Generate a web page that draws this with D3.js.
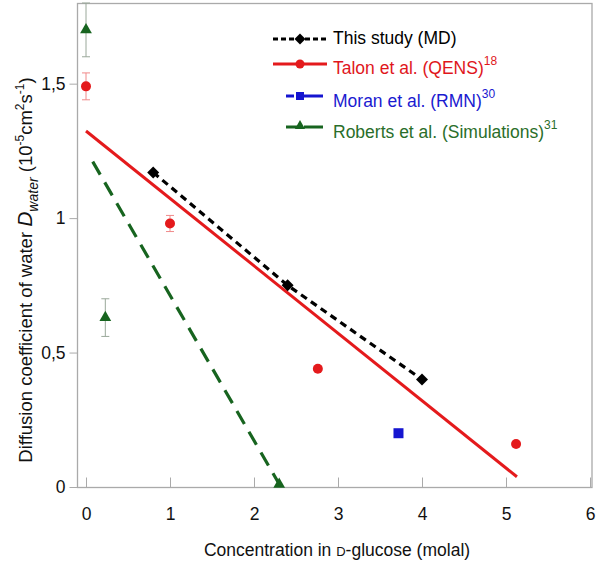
<!DOCTYPE html>
<html><head><meta charset="utf-8">
<script src="https://cdn.jsdelivr.net/npm/d3@7"></script>
<style>body{margin:0;background:#fff}svg{display:block;font-family:"Liberation Sans",Arial,sans-serif}</style>
</head><body><svg id="c" width="600" height="563"></svg>
<script>
// Data
const mdX = [0.8, 2.4, 4.0];
const mdY = [1.17, 0.75, 0.40];
const talonX = [0, 1.0, 2.76, 5.12];
const talonY = [1.49, 0.98, 0.44, 0.16];
const talonErr = [0.05, 0.03, 0, 0];
const talonFitX = [0, 5.13];
const talonFitY = [1.324, 0.038];
const moranX = [3.72];
const moranY = [0.20];
const robertsX = [0, 0.23, 2.3];
const robertsY = [1.70, 0.63, 0.01];
const robertsErr = [0.10, 0.07, 0];
const robertsFitX = [0.08, 2.32];
const robertsFitY = [1.21, 0.0];
const xTicks = [0, 1, 2, 3, 4, 5, 6];
const xTickLabels = ["0", "1", "2", "3", "4", "5", "6"];
const yTicks = [0, 0.5, 1, 1.5];
const yTickLabels = ["0", "0,5", "1", "1,5"];

const RED = "#e41a1c", BLUE = "#1515d0", GREEN = "#17641f", BLACK = "#000";
const svg = d3.select("#c");
const x = d3.scaleLinear().domain([0, 6]).range([86, 590]);
const y = d3.scaleLinear().domain([0, 1.8]).range([487, 3]);
const frame = {l: 77.5, r: 592, t: 3.5, b: 487.5};

// frame
svg.append("rect").attr("x", frame.l).attr("y", frame.t)
  .attr("width", frame.r - frame.l).attr("height", frame.b - frame.t)
  .attr("fill", "none").attr("stroke", "#aaa").attr("stroke-width", 1.3);

// x axis ticks (inward) & labels
const xAxis = d3.axisBottom(x).tickValues(xTicks).tickFormat((d, i) => xTickLabels[i])
  .tickSizeInner(-10).tickSizeOuter(0).tickPadding(20);
const gx = svg.append("g").attr("transform", `translate(0,${frame.b})`).call(xAxis);
gx.select(".domain").remove();
gx.selectAll(".tick line").attr("stroke", "#aaa");
gx.selectAll(".tick text").attr("font-size", 17.5).attr("fill", "#111").attr("font-family", "Liberation Sans, Arial, sans-serif");

// y axis ticks (outward) & labels
const yAxis = d3.axisLeft(y).tickValues(yTicks).tickFormat((d, i) => yTickLabels[i]).tickSize(8).tickPadding(4);
const gy = svg.append("g").attr("transform", `translate(${frame.l},0)`).call(yAxis);
gy.select(".domain").remove();
gy.selectAll(".tick line").attr("stroke", "#aaa");
gy.selectAll(".tick text").attr("font-size", 17.5).attr("fill", "#111").attr("font-family", "Liberation Sans, Arial, sans-serif");

// Axis titles
const xt = svg.append("text").attr("x", 337).attr("y", 556).attr("text-anchor", "middle")
  .attr("font-size", 17.5).attr("fill", "#111");
xt.append("tspan").text("Concentration in ");
xt.append("tspan").attr("font-size", 13).text("D");
xt.append("tspan").text("-glucose (molal)");

const yt = svg.append("text").attr("transform", "translate(32,270) rotate(-90)")
  .attr("text-anchor", "middle").attr("font-size", 18.5).attr("fill", "#111");
yt.append("tspan").text("Diffusion coefficient of water ");
yt.append("tspan").attr("font-style", "italic").attr("font-size", 21).text("D");
yt.append("tspan").attr("font-style", "italic").attr("font-size", 14).attr("dy", 6).text("water");
yt.append("tspan").attr("dy", -6).text("  (10");
yt.append("tspan").attr("font-size", 12).attr("dy", -8).text("-5");
yt.append("tspan").attr("dy", 8).text("cm");
yt.append("tspan").attr("font-size", 12).attr("dy", -8).text("2");
yt.append("tspan").attr("dy", 8).text("s");
yt.append("tspan").attr("font-size", 12).attr("dy", -8).text("-1");
yt.append("tspan").attr("dy", 8).text(")");

const line = d3.line().x(d => x(d[0])).y(d => y(d[1]));

// Roberts fit (green dashed)
svg.append("path").datum(d3.zip(robertsFitX, robertsFitY)).attr("d", line)
  .attr("fill", "none").attr("stroke", GREEN).attr("stroke-width", 3.2).attr("stroke-dasharray", "15,9");
// Talon fit (red)
svg.append("path").datum(d3.zip(talonFitX, talonFitY)).attr("d", line)
  .attr("fill", "none").attr("stroke", RED).attr("stroke-width", 3);
// MD (black dashed)
svg.append("path").datum(d3.zip(mdX, mdY)).attr("d", line)
  .attr("fill", "none").attr("stroke", BLACK).attr("stroke-width", 3.2).attr("stroke-dasharray", "7,5");

// error bars
function errBars(xs, ys, es, color) {
  const g = svg.append("g").attr("stroke", color).attr("stroke-width", 1);
  xs.forEach((xv, i) => {
    if (!es[i]) return;
    const cx = x(xv), y1 = y(ys[i] + es[i]), y2 = y(ys[i] - es[i]);
    g.append("line").attr("x1", cx).attr("x2", cx).attr("y1", y1).attr("y2", y2);
    g.append("line").attr("x1", cx - 4).attr("x2", cx + 4).attr("y1", y1).attr("y2", y1);
    g.append("line").attr("x1", cx - 4).attr("x2", cx + 4).attr("y1", y2).attr("y2", y2);
  });
}
errBars(robertsX, robertsY, robertsErr, "#9aa89a");
errBars(talonX, talonY, talonErr, "#f08a8a");

const sym = (type, size) => d3.symbol().type(type).size(size);
// markers
svg.append("g").selectAll("path").data(d3.zip(robertsX, robertsY)).join("path")
  .attr("transform", d => `translate(${x(d[0])},${y(d[1])})`).attr("d", sym(d3.symbolTriangle, 60)).attr("fill", GREEN);
svg.append("g").selectAll("circle").data(d3.zip(talonX, talonY)).join("circle")
  .attr("cx", d => x(d[0])).attr("cy", d => y(d[1])).attr("r", 5).attr("fill", RED);
svg.append("g").selectAll("rect").data(d3.zip(moranX, moranY)).join("rect")
  .attr("x", d => x(d[0]) - 5).attr("y", d => y(d[1]) - 5).attr("width", 10).attr("height", 10).attr("fill", BLUE);
svg.append("g").selectAll("path").data(d3.zip(mdX, mdY)).join("path")
  .attr("transform", d => `translate(${x(d[0])},${y(d[1])}) rotate(45)`).attr("d", sym(d3.symbolSquare, 72)).attr("fill", BLACK);

// Legend
const legend = [
  {label: "This study (MD)", sup: "", color: BLACK, text: "#000", x1: 273, x2: 327, dash: "5,3", mk: "diamond"},
  {label: "Talon et al. (QENS)", sup: "18", color: RED, text: "#e0161c", x1: 273, x2: 327, dash: null, mk: "circle"},
  {label: "Moran et al. (RMN)", sup: "30", color: BLUE, text: "#1a1ad0", x1: 286, x2: 323, dash: "8,3,100", mk: "square"},
  {label: "Roberts et al. (Simulations)", sup: "31", color: GREEN, text: "#2a6e2a", x1: 286, x2: 323, dash: "12,6,200", mk: "triangle"}
];
const lineY = [39, 64, 96, 127];
const textY = [44, 74, 107, 138];
legend.forEach((d, i) => {
  const g = svg.append("g").attr("transform", `translate(0,${lineY[i]})`);
  const ln = g.append("line").attr("x1", d.x1).attr("x2", d.x2).attr("y1", 0).attr("y2", 0)
    .attr("stroke", d.color).attr("stroke-width", 3);
  if (d.dash) ln.attr("stroke-dasharray", d.dash);
  if (d.mk === "diamond") g.append("path").attr("transform", "translate(300,0) rotate(45)").attr("d", sym(d3.symbolSquare, 60)).attr("fill", d.color);
  if (d.mk === "circle") g.append("circle").attr("cx", 300).attr("cy", 0).attr("r", 4.5).attr("fill", d.color);
  if (d.mk === "square") g.append("rect").attr("x", 296).attr("y", -4).attr("width", 8).attr("height", 8).attr("fill", d.color);
  if (d.mk === "triangle") g.append("path").attr("transform", "translate(300,-1)").attr("d", sym(d3.symbolTriangle, 45)).attr("fill", d.color);
  const t = svg.append("text").attr("x", 333).attr("y", textY[i]).attr("font-size", 17.5).attr("fill", d.text);
  t.append("tspan").text(d.label);
  if (d.sup) t.append("tspan").attr("font-size", 12).attr("dy", -9).text(d.sup);
});
</script></body></html>
